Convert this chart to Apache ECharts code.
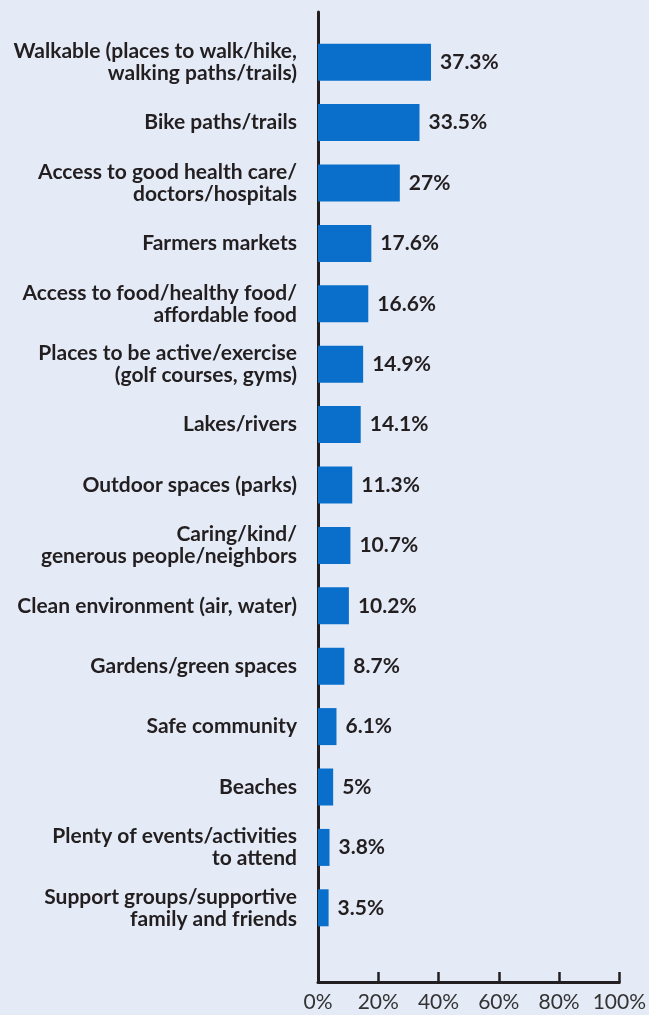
<!DOCTYPE html>
<html>
<head>
<meta charset="utf-8">
<style>
  html, body { margin: 0; padding: 0; background: #E4EBF7; }
  #chart { width: 649px; height: 1015px; }
</style>
<script src="https://cdn.jsdelivr.net/npm/echarts@6/dist/echarts.min.js"></script>
</head>
<body>
<div id="chart"></div>
<script>
// Community features people value most (share of respondents, %)
const categories = [
  "Walkable (places to walk/hike,\nwalking paths/trails)",
  "Bike paths/trails",
  "Access to good health care/\ndoctors/hospitals",
  "Farmers markets",
  "Access to food/healthy food/\naffordable food",
  "Places to be active/exercise\n(golf courses, gyms)",
  "Lakes/rivers",
  "Outdoor spaces (parks)",
  "Caring/kind/\ngenerous people/neighbors",
  "Clean environment (air, water)",
  "Gardens/green spaces",
  "Safe community",
  "Beaches",
  "Plenty of events/activities\nto attend",
  "Support groups/supportive\nfamily and friends"
];
const values = [37.3, 33.5, 27, 17.6, 16.6, 14.9, 14.1, 11.3, 10.7, 10.2, 8.7, 6.1, 5, 3.8, 3.5];
const xTicks = [0, 20, 40, 60, 80, 100];

const ink = '#231F20';
const chart = echarts.init(document.getElementById('chart'), null, { renderer: 'canvas' });

chart.setOption({
  backgroundColor: '#E4EBF7',
  animation: false,
  grid: [
    // frame grid: carries the L-shaped axes and the percent ticks
    { left: 318, width: 303, top: 12, height: 970 },
    // bar grid: the category bands
    { left: 318, width: 303, top: 32, height: 906 }
  ],
  xAxis: [
    {
      gridIndex: 0, type: 'value', min: xTicks[0], max: xTicks[xTicks.length - 1], interval: 20,
      axisLine: { show: true, lineStyle: { color: ink, width: 3 } },
      axisTick: { show: true, inside: true, length: 10, lineStyle: { color: ink, width: 2.5 } },
      splitLine: { show: false },
      axisLabel: {
        formatter: v => v + '%', color: '#333', fontFamily: 'Lato', fontSize: 21, margin: 10
      }
    },
    {
      gridIndex: 1, type: 'value', min: 0, max: 100, show: false
    }
  ],
  yAxis: [
    {
      gridIndex: 0, type: 'value', min: 0, max: 1,
      axisLine: { show: true, lineStyle: { color: ink, width: 3 } },
      axisTick: { show: false }, axisLabel: { show: false }, splitLine: { show: false }
    },
    {
      gridIndex: 1, type: 'category', data: categories, inverse: true,
      axisLine: { show: false }, axisTick: { show: false },
      axisLabel: {
        color: ink, fontFamily: 'Lato', fontWeight: 'bold', fontSize: 21,
        lineHeight: 22, margin: 21, align: 'right'
      }
    }
  ],
  series: [{
    type: 'bar',
    xAxisIndex: 1, yAxisIndex: 1,
    data: values,
    barWidth: 37,
    itemStyle: { color: '#0A6FCB' },
    label: {
      show: true, position: 'right', distance: 9,
      formatter: p => p.value + '%',
      color: ink, fontFamily: 'Lato', fontWeight: 'bold', fontSize: 21
    }
  }]
});
</script>
</body>
</html>
